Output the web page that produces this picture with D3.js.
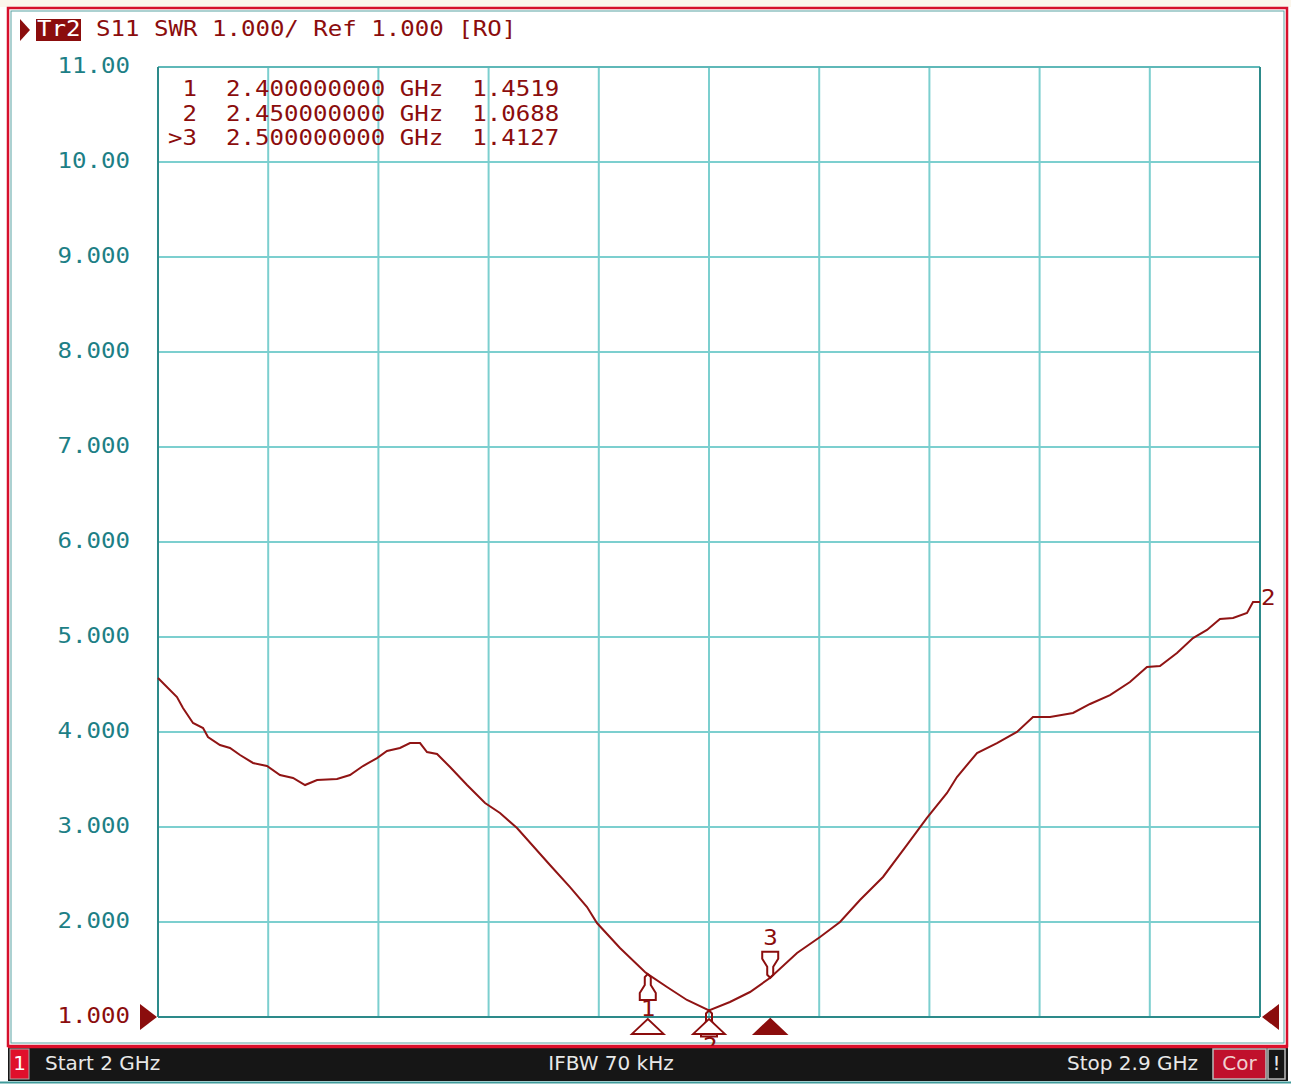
<!DOCTYPE html>
<html><head><meta charset="utf-8">
<script src="https://cdn.jsdelivr.net/npm/d3@7"></script>
<style>html,body{margin:0;padding:0;background:#fff;}svg{display:block;}</style>
</head><body>
<svg id="c" width="1291" height="1086"></svg>
<script>
// ---- data ----
const freqGHz = [2.000,2.0155,2.0204,2.0286,2.0368,2.0408,2.0506,2.0588,2.0670,2.0776,2.0890,2.0996,2.1103,2.1201,2.1299,2.1462,2.1568,2.1674,2.1789,2.1870,2.1976,2.2058,2.2140,2.2197,2.2279,2.2385,2.2524,2.2671,2.2793,2.2932,2.3201,2.3365,2.3504,2.3585,2.3773,2.3977,2.4000,2.4157,2.4320,2.4500,2.4671,2.4835,2.5000,2.5219,2.5407,2.5570,2.5733,2.5921,2.6117,2.6280,2.6444,2.6525,2.6689,2.6852,2.7015,2.7146,2.7285,2.7473,2.7612,2.7775,2.7938,2.8077,2.8183,2.8322,2.8453,2.8567,2.8673,2.8780,2.8894,2.8943,2.9000];
const swr = [4.568,4.368,4.253,4.095,4.042,3.947,3.863,3.832,3.758,3.674,3.642,3.547,3.516,3.442,3.495,3.505,3.547,3.642,3.726,3.800,3.832,3.884,3.884,3.789,3.768,3.632,3.442,3.253,3.147,2.989,2.600,2.368,2.158,1.989,1.726,1.474,1.4519,1.316,1.179,1.0688,1.158,1.263,1.4127,1.674,1.842,2.000,2.232,2.474,2.811,3.095,3.358,3.526,3.779,3.884,4.000,4.158,4.158,4.200,4.295,4.389,4.526,4.684,4.695,4.832,4.989,5.074,5.189,5.200,5.253,5.368,5.368];
const yTickValues = [11,10,9,8,7,6,5,4,3,2,1];
const yTickLabels = ["11.00","10.00","9.000","8.000","7.000","6.000","5.000","4.000","3.000","2.000","1.000"];
const xTickValues = [2.00,2.09,2.18,2.27,2.36,2.45,2.54,2.63,2.72,2.81,2.90];
const markerIds = ["1","2","3"];
const markerFreq = [2.40,2.45,2.50];
const markerSwr = [1.4519,1.0688,1.4127];
const markerRows = [" 1  2.400000000 GHz  1.4519"," 2  2.450000000 GHz  1.0688",">3  2.500000000 GHz  1.4127"];
const headerText = "S11 SWR 1.000/ Ref 1.000 [RO]";
const traceName = "Tr2";
const startLabel = "Start 2 GHz", ifbwLabel = "IFBW 70 kHz", stopLabel = "Stop 2.9 GHz";

// ---- drawing ----
const svg = d3.select("#c");
const x = d3.scaleLinear().domain([2.0,2.9]).range([158,1260]);
const y = d3.scaleLinear().domain([1,11]).range([1017,67]);
const DR = "#8b0d0d", TEAL_T = "#1d7f86", GRID = "#7ccfcf", FRAME = "#2d8a8a";
const CW = 14.5, FS = 21, SX = CW/(0.602*FS);

function mono(g, str, x0, y0, fill){
  return g.append("text").attr("transform",`translate(${x0},${y0}) scale(${SX},1)`)
    .attr("font-family","DejaVu Sans Mono").attr("font-size",FS).attr("fill",fill)
    .attr("dominant-baseline","middle").style("white-space","pre").text(str);
}

// backgrounds / frame
svg.append("rect").attr("x",0).attr("y",0).attr("width",1291).attr("height",7).attr("fill","#fbf6ec");
svg.append("rect").attr("x",8).attr("y",8).attr("width",1279).attr("height",1038).attr("fill","none").attr("stroke","#d6102c").attr("stroke-width",2.5);
svg.append("rect").attr("x",11).attr("y",11).attr("width",1273).attr("height",1032).attr("fill","none").attr("stroke","#5aa3a3").attr("stroke-width",1);

// grid
const grid = svg.append("g");
grid.selectAll("line.v").data(xTickValues.slice(1,-1)).join("line")
  .attr("x1",d=>x(d)).attr("x2",d=>x(d)).attr("y1",y(11)).attr("y2",y(1))
  .attr("stroke",GRID).attr("stroke-width",2);
grid.selectAll("line.h").data(yTickValues.slice(1,-1)).join("line")
  .attr("x1",x(2)).attr("x2",x(2.9)).attr("y1",d=>y(d)).attr("y2",d=>y(d))
  .attr("stroke",GRID).attr("stroke-width",2);
svg.append("line").attr("x1",x(2)).attr("x2",x(2.9)).attr("y1",y(11)).attr("y2",y(11)).attr("stroke","#5fb8b8").attr("stroke-width",2);
svg.append("line").attr("x1",x(2)).attr("x2",x(2)).attr("y1",y(11)).attr("y2",y(1)).attr("stroke",FRAME).attr("stroke-width",2);
svg.append("line").attr("x1",x(2.9)).attr("x2",x(2.9)).attr("y1",y(11)).attr("y2",y(1)).attr("stroke",FRAME).attr("stroke-width",2);
svg.append("line").attr("x1",x(2)).attr("x2",x(2.9)).attr("y1",y(1)).attr("y2",y(1)).attr("stroke",FRAME).attr("stroke-width",2);

// y labels
yTickValues.forEach((v,i)=>{
  const s = yTickLabels[i];
  mono(svg, s, 130 - s.length*CW, y(v), v===1 ? DR : TEAL_T);
});

// reference triangles
svg.append("path").attr("d",`M140,${y(1)-13} L157,${y(1)} L140,${y(1)+13} Z`).attr("fill",DR);
svg.append("path").attr("d",`M1279,${y(1)-13} L1262,${y(1)} L1279,${y(1)+13} Z`).attr("fill",DR);

// trace
const pts = freqGHz.map((f,i)=>[f,swr[i]]);
svg.append("path").datum(pts).attr("d",d3.line().x(d=>x(d[0])).y(d=>y(d[1])))
  .attr("fill","none").attr("stroke","#901414").attr("stroke-width",2);
mono(svg, "2", 1261, y(swr[swr.length-1])-3, DR);

// marker table
markerRows.forEach((r,i)=>mono(svg, r, 168, 90 + i*24.5, DR));

// markers on trace
markerFreq.forEach((f,i)=>{
  const px = x(f), py = y(markerSwr[i]);
  const active = i===2;
  const dir = active ? -1 : 1;
  const p = [[0,0],[-3,3],[-3,11],[-8,19],[-8,26],[8,26],[8,19],[3,11],[3,3]];
  svg.append("path").attr("d","M"+p.map(q=>`${px+q[0]},${py+dir*q[1]}`).join("L")+"Z")
    .attr("fill","none").attr("stroke",DR).attr("stroke-width",2);
  if (active) mono(svg, markerIds[i], px - 7, py - 39, DR);
  else if (i===0) mono(svg, markerIds[i], px - 7, py + 36, DR);
  // stimulus triangles below axis
  svg.append("path").attr("d",`M${px},${y(1)+2} L${px+16},${y(1)+17} L${px-16},${y(1)+17} Z`)
    .attr("fill",active?DR:"#fff").attr("stroke",DR).attr("stroke-width",1.8);
  if (i===1) mono(svg, markerIds[i], px-6, y(1)+30, DR);
});

// header
svg.append("path").attr("d","M20,19 L30,30 L20,41 Z").attr("fill",DR);
svg.append("rect").attr("x",36).attr("y",19).attr("width",45).attr("height",22).attr("fill",DR);
mono(svg, traceName, 37, 30, "#fff");
mono(svg, headerText, 96, 30, DR);

// status bar
svg.append("rect").attr("x",8).attr("y",1047).attr("width",1280).attr("height",34).attr("fill","#161616");
svg.append("line").attr("x1",8).attr("x2",1288).attr("y1",1047).attr("y2",1047).attr("stroke","#e0102c").attr("stroke-width",2.5);
svg.append("line").attr("x1",0).attr("x2",1291).attr("y1",1082.5).attr("y2",1082.5).attr("stroke","#3f9a9a").attr("stroke-width",2);
svg.append("rect").attr("x",10).attr("y",1049).attr("width",19).attr("height",30).attr("fill","#e0102c").attr("stroke","#aaa").attr("stroke-width",1);
const sb = (t,x0,anchor,fill)=>svg.append("text").attr("x",x0).attr("y",1064).attr("dominant-baseline","middle")
  .attr("text-anchor",anchor).attr("font-family","DejaVu Sans").attr("font-size",20).attr("fill",fill||"#e8e8e8").text(t);
sb("1",19.5,"middle","#fff");
sb(startLabel,45,"start");
sb(ifbwLabel,611,"middle");
sb(stopLabel,1198,"end");
svg.append("rect").attr("x",1213).attr("y",1049).attr("width",53).attr("height",30).attr("fill","#c0102c").attr("stroke","#bbb").attr("stroke-width",1.5);
sb("Cor",1239.5,"middle","#f0d0d0");
svg.append("rect").attr("x",1268).attr("y",1049).attr("width",17).attr("height",30).attr("fill","#161616").attr("stroke","#bbb").attr("stroke-width",1.5);
sb("!",1276.5,"middle","#e8e8e8");
</script>
</body></html>
